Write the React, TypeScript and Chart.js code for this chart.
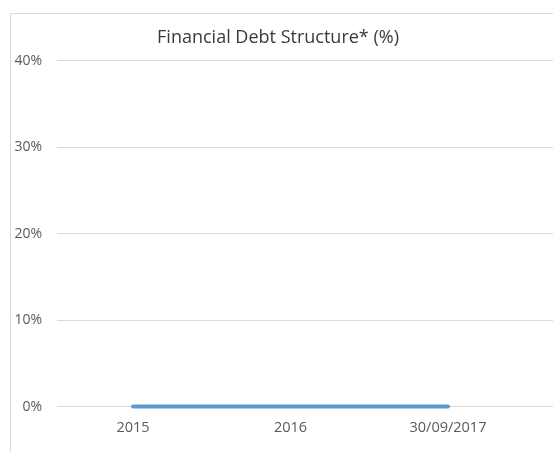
import React, { useEffect, useRef } from "react";
import { Chart, registerables } from "chart.js";

Chart.register(...registerables);

const categories = ["2015", "2016", "30/09/2017"];
const debtValues = [0, 0, 0];
const yTicks = [0, 10, 20, 30, 40];

export default function App() {
  const ref = useRef<HTMLCanvasElement | null>(null);

  useEffect(() => {
    document.documentElement.style.overflow = "hidden";
    document.body.style.overflow = "hidden";
    const ctx = ref.current!;
    const chart = new Chart(ctx, {
      type: "line",
      data: {
        datasets: [
          {
            label: "Financial Debt",
            data: debtValues.map((v, i) => ({ x: i, y: v })),
            borderColor: "#5b9bd5",
            backgroundColor: "#5b9bd5",
            borderWidth: 4,
            borderCapStyle: "round",
            pointRadius: 0,
            fill: false,
            clip: false as any,
          },
        ],
      },
      options: {
        animation: false,
        responsive: false,
        maintainAspectRatio: false,
        layout: { padding: { left: 3, right: 0, top: 27, bottom: 2 } },
        plugins: {
          legend: { display: false },
          tooltip: { enabled: false },
          title: {
            display: true,
            text: "Financial Debt Structure* (%)",
            color: "#3a3a3a",
            font: { family: "Open Sans", size: 18, weight: 500 as any },
            padding: { top: 0, bottom: 12 },
          },
        },
        scales: {
          x: {
            type: "linear",
            min: -0.483,
            max: 2.667,
            afterBuildTicks: (scale: any) => {
              scale.ticks = categories.map((_, i) => ({ value: i }));
            },
            ticks: {
              callback: (v: any) => categories[Math.round(Number(v))],
              color: "#595959",
              font: { family: "Open Sans", size: 14.5 },
              padding: 13,
              maxRotation: 0,
              autoSkip: false,
            },
            grid: { display: false, drawTicks: false },
            border: { display: false },
          },
          y: {
            min: 0,
            max: 40,
            afterBuildTicks: (scale: any) => {
              scale.ticks = yTicks.map((v) => ({ value: v }));
            },
            afterFit: (scale: any) => {
              scale.width = 54;
            },
            ticks: {
              callback: (v: any) => v + "%",
              color: "#595959",
              font: { family: "Open Sans", size: 14 },
              crossAlign: "near",
              padding: 15,
            },
            grid: { color: "#d9d9d9", drawTicks: false, lineWidth: 1 },
            border: { display: false },
          },
        },
      },
    });
    return () => chart.destroy();
  }, []);

  return (
    <>
      <div
        style={{
          position: "fixed",
          left: 10,
          top: 13,
          width: 700,
          height: 600,
          border: "1px solid #d9d9d9",
          boxSizing: "border-box",
        }}
      />
      <canvas
        ref={ref}
        width={553}
        height={452}
        style={{ position: "fixed", left: 0, top: 0, width: 553, height: 452 }}
      />
    </>
  );
}
